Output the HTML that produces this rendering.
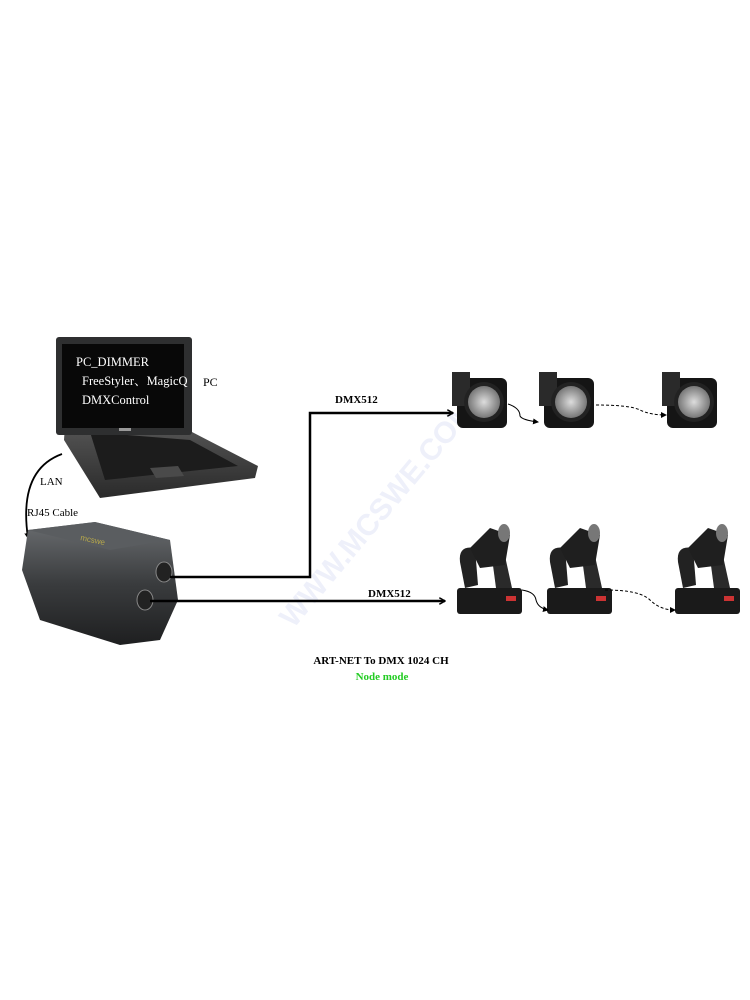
<!DOCTYPE html>
<html><head><meta charset="utf-8"><style>
html,body{margin:0;padding:0;background:#fff;}
svg{display:block;}
</style></head><body>
<svg width="750" height="1000" viewBox="0 0 750 1000" xmlns="http://www.w3.org/2000/svg" font-family="Liberation Serif, serif">
<defs>
<linearGradient id="bx" x1="0" y1="0" x2="0" y2="1"><stop offset="0" stop-color="#6a6d70"/><stop offset="0.5" stop-color="#3a3c3e"/><stop offset="1" stop-color="#1e1f20"/></linearGradient>
<linearGradient id="kb" x1="0" y1="0" x2="0" y2="1"><stop offset="0" stop-color="#555"/><stop offset="1" stop-color="#2a2a2a"/></linearGradient>
<radialGradient id="led"><stop offset="0" stop-color="#ddd"/><stop offset="1" stop-color="#777"/></radialGradient>
<marker id="ah" markerWidth="7" markerHeight="7" refX="6" refY="3.5" orient="auto" markerUnits="userSpaceOnUse"><path d="M0,0 L6,3.5 L0,7" fill="none" stroke="#000" stroke-width="1.5"/></marker>
<marker id="as" markerWidth="6" markerHeight="6" refX="5" refY="3" orient="auto" markerUnits="userSpaceOnUse"><path d="M0,0 L6,3 L0,6Z" fill="#000"/></marker>
</defs>
<!-- watermark -->
<text x="385" y="520" font-family="Liberation Sans, sans-serif" font-size="30" font-weight="bold" fill="#eef0fa" transform="rotate(-50 385 520)" text-anchor="middle">WWW.MCSWE.COM</text>

<!-- laptop -->
<path d="M65,425 L192,432 L258,466 L255,478 L100,498 L64,440Z" fill="url(#kb)"/>
<path d="M90,432 L190,440 L238,466 L105,480Z" fill="#1c1c1c"/>
<path d="M150,468 L178,466 L184,476 L156,478Z" fill="#4a4a4a"/>
<rect x="56" y="337" width="136" height="98" rx="3" fill="#2e2f30"/>
<rect x="62" y="344" width="122" height="84" fill="#080808"/>
<rect x="119" y="428" width="12" height="3" fill="#999"/>
<text x="76" y="366" font-size="12.5" fill="#fff">PC_DIMMER</text>
<text x="82" y="385" font-size="12.5" fill="#fff" font-family="Liberation Serif, Noto Serif CJK SC, serif">FreeStyler、MagicQ</text>
<text x="82" y="404" font-size="12.5" fill="#fff">DMXControl</text>
<text x="203" y="386" font-size="12" fill="#000">PC</text>
<!-- LAN cable -->
<path d="M62,454 Q18,470 28,538" fill="none" stroke="#000" stroke-width="1.8" marker-end="url(#as)"/>
<text x="40" y="485" font-size="11" fill="#000">LAN</text>
<text x="27" y="516" font-size="11" fill="#000">RJ45 Cable</text>

<!-- box -->
<path d="M28,530 L95,522 L170,540 L178,600 L160,640 L120,645 L40,620 L22,570Z" fill="url(#bx)"/>
<path d="M28,530 L95,522 L170,540 L110,550Z" fill="#5a5d60"/>
<ellipse cx="164" cy="572" rx="8" ry="10" fill="#222" stroke="#888"/>
<ellipse cx="145" cy="600" rx="8" ry="10" fill="#222" stroke="#888"/>
<text x="80" y="540" font-size="8" fill="#b8a94a" font-family="Liberation Sans, sans-serif" transform="rotate(12 80 540)">mcswe</text>

<!-- cables -->
<path d="M170,577 L310,577 L310,413 L453,413" fill="none" stroke="#000" stroke-width="2.5" marker-end="url(#ah)"/>
<path d="M150,601 L445,601" fill="none" stroke="#000" stroke-width="2.5" marker-end="url(#ah)"/>
<text x="335" y="403" font-size="11" font-weight="bold">DMX512</text>
<text x="368" y="597" font-size="11" font-weight="bold">DMX512</text>
<text x="381" y="664" font-size="11" font-weight="bold" text-anchor="middle">ART-NET To DMX 1024 CH</text>
<text x="382" y="680" font-size="11" font-weight="bold" fill="#22cc22" text-anchor="middle">Node mode</text>

<!-- par cans -->
<g id="par">
<rect x="457" y="378" width="50" height="50" rx="6" fill="#151515"/>
<rect x="452" y="372" width="18" height="34" fill="#2a2a2a"/>
<circle cx="484" cy="402" r="20" fill="#222"/>
<circle cx="484" cy="402" r="16" fill="url(#led)"/>
</g>
<use href="#par" x="87"/>
<use href="#par" x="210"/>
<path d="M508,404 Q520,408 520,416 Q522,420 538,422" fill="none" stroke="#000" stroke-width="1" marker-end="url(#as)"/>
<path d="M596,405 Q630,405 640,410 Q650,415 666,415" fill="none" stroke="#000" stroke-width="1" stroke-dasharray="3,2" marker-end="url(#as)"/>

<!-- moving heads -->
<g id="mh">
<rect x="457" y="588" width="65" height="26" rx="3" fill="#1a1a1a"/>
<rect x="506" y="596" width="10" height="5" fill="#c33"/>
<path d="M460,562 Q458,545 475,548 L478,585 L465,588Z" fill="#222"/>
<path d="M505,556 L512,588 L496,588 L492,558Z" fill="#2a2a2a"/>
<path d="M470,548 L490,528 L510,535 L505,565 L480,568Z" fill="#1f1f1f"/>
<ellipse cx="504" cy="533" rx="6" ry="9" fill="#777"/>
</g>
<use href="#mh" x="90"/>
<use href="#mh" x="218"/>
<path d="M522,590 Q535,592 536,600 Q538,608 548,610" fill="none" stroke="#000" stroke-width="1" marker-end="url(#as)"/>
<path d="M605,590 Q640,590 650,600 Q660,610 675,610" fill="none" stroke="#000" stroke-width="1" stroke-dasharray="3,2" marker-end="url(#as)"/>
</svg>
</body></html>
